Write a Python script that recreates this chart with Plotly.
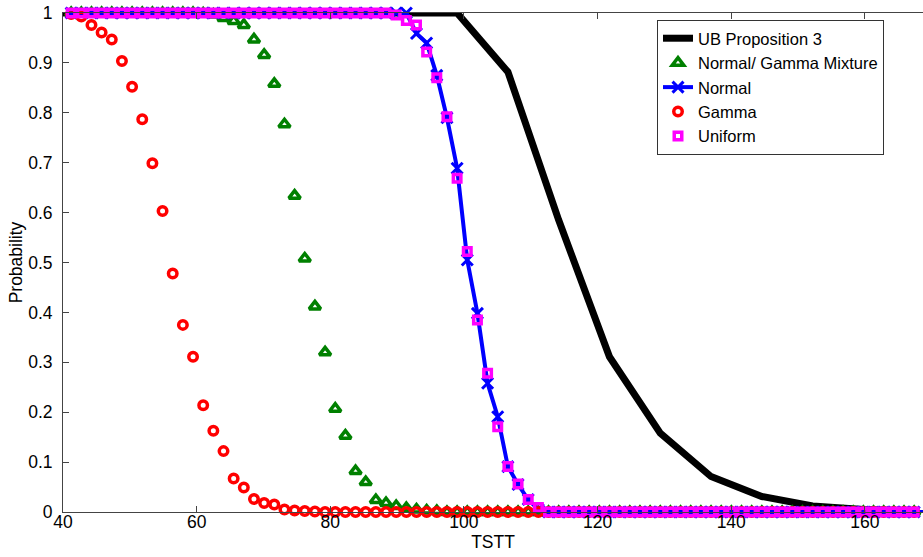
import plotly.graph_objects as go

# TSTT grid shared by the marker series
tstt = [41.22, 42.74, 44.26, 45.78, 47.30, 48.82, 50.34, 51.86, 53.38, 54.90,
        56.42, 57.94, 59.46, 60.98, 62.50, 64.02, 65.54, 67.06, 68.58, 70.10,
        71.62, 73.14, 74.66, 76.18, 77.70, 79.22, 80.74, 82.26, 83.78, 85.30,
        86.82, 88.34, 89.86, 91.38, 92.90, 94.42, 95.94, 97.46, 98.98, 100.50,
        102.02, 103.54, 105.06, 106.58, 108.10, 109.62, 111.14, 112.66, 114.18, 115.70,
        117.22, 118.74, 120.26, 121.78, 123.30, 124.82, 126.34, 127.86, 129.38, 130.90,
        132.42, 133.94, 135.46, 136.98, 138.50, 140.02, 141.54, 143.06, 144.58, 146.10,
        147.62, 149.14, 150.66, 152.18, 153.70, 155.22, 156.74, 158.26, 159.78, 161.30,
        162.82, 164.34, 165.86, 167.38, 168.90]

gamma = [0.998, 0.993, 0.976, 0.961, 0.947, 0.904, 0.852, 0.787, 0.699, 0.603,
         0.478, 0.375, 0.311, 0.214, 0.163, 0.122, 0.067, 0.049, 0.026, 0.018,
         0.015, 0.005, 0.003, 0.002, 0.001] + [0.0] * 60

mixture = [1.0] * 13 + [0.999, 0.997,
           0.99, 0.984, 0.976, 0.947, 0.916, 0.858, 0.777, 0.634, 0.508, 0.412,
           0.32, 0.207, 0.153, 0.082, 0.06, 0.024, 0.018, 0.012, 0.008, 0.005,
           0.003, 0.002] + [0.0] * 48

normal = [1.0] * 34 + [0.959, 0.94, 0.875, 0.79, 0.689, 0.505, 0.398, 0.258,
                       0.191, 0.091, 0.055, 0.025, 0.005] + [0.0] * 38

uniform = [1.0] * 32 + [0.996, 0.985, 0.976, 0.922, 0.870, 0.792, 0.669, 0.522,
                        0.385, 0.278, 0.171, 0.091, 0.056, 0.025, 0.009] + [0.0] * 38

ub_x = [38.18, 45.78, 53.38, 60.98, 68.58, 76.18, 83.78, 91.38, 98.98, 106.58,
        114.18, 121.78, 129.38, 136.98, 144.58, 152.18, 159.78, 167.38]
ub_y = [1.0, 1.0, 1.0, 1.0, 1.0, 1.0, 1.0, 1.0, 1.0, 0.882,
        0.585, 0.311, 0.158, 0.071, 0.031, 0.012, 0.005, 0.002]

x_ticks = [40, 60, 80, 100, 120, 140, 160]
y_ticks = [0, 0.1, 0.2, 0.3, 0.4, 0.5, 0.6, 0.7, 0.8, 0.9, 1]
y_tick_text = ["0", "0.1", "0.2", "0.3", "0.4", "0.5", "0.6", "0.7", "0.8", "0.9", "1"]

FONT = "Liberation Sans, Arial, sans-serif"

fig = go.Figure()
fig.add_trace(go.Scatter(x=ub_x, y=ub_y, mode="lines", name="UB Proposition 3",
                         line=dict(color="black", width=7)))
fig.add_trace(go.Scatter(x=tstt, y=mixture, mode="markers", name="Normal/ Gamma Mixture",
                         cliponaxis=False,
                         marker=dict(symbol="triangle-up-open", size=10, color="#008000",
                                     line=dict(color="#008000", width=3.5))))
fig.add_trace(go.Scatter(x=tstt, y=normal, mode="lines+markers", name="Normal",
                         cliponaxis=False,
                         line=dict(color="#0000FF", width=4),
                         marker=dict(symbol="x-thin-open", size=11, color="#0000FF",
                                     line=dict(color="#0000FF", width=3))))
fig.add_trace(go.Scatter(x=tstt, y=gamma, mode="markers", name="Gamma",
                         cliponaxis=False,
                         marker=dict(symbol="circle-open", size=8.5, color="#FF0000",
                                     line=dict(color="#FF0000", width=3.5))))
fig.add_trace(go.Scatter(x=tstt, y=uniform, mode="markers", name="Uniform",
                         cliponaxis=False,
                         marker=dict(symbol="square-open", size=7.5, color="#FF00FF",
                                     line=dict(color="#FF00FF", width=3.5))))

fig.update_layout(
    width=923, height=557,
    margin=dict(l=63, r=0, t=13, b=45, autoexpand=False),
    plot_bgcolor="white", paper_bgcolor="white",
    font=dict(family=FONT, size=17, color="black"),
    showlegend=True,
    legend=dict(x=0.6907, y=0.986, xanchor="left", yanchor="top",
                bgcolor="white", bordercolor="#333333", borderwidth=1,
                font=dict(family=FONT, size=16.5, color="black"),
                itemwidth=30, tracegroupgap=0,
                entrywidth=205, entrywidthmode="pixels"),
    xaxis=dict(range=[40, 168.7], tickvals=x_ticks, ticks="inside", ticklen=6,
               tickcolor="#444444", showline=True, linecolor="#444444", linewidth=1,
               mirror="ticks", showgrid=False, zeroline=False, automargin=False,
               tickfont=dict(family=FONT, size=17.5), ticklabelstandoff=-6,
               ticklabeloverflow="allow",
               title=dict(text="TSTT", font=dict(family=FONT, size=17.5), standoff=0)),
    yaxis=dict(range=[0, 1], tickvals=y_ticks, ticktext=y_tick_text, ticks="inside",
               ticklen=6, tickcolor="#444444", showline=True, linecolor="#444444",
               linewidth=1, mirror=False, showgrid=False, zeroline=False, automargin=False,
               tickfont=dict(family=FONT, size=17.5), ticklabelstandoff=6,
               ticklabeloverflow="allow",
               title=dict(text="Probability", font=dict(family=FONT, size=17.5), standoff=1)),
)

# remove the browser's default 8px page margin so the figure fills the window exactly
fig.write_html("out.html",
               config={"displayModeBar": False, "staticPlot": True},
               post_script="document.body.style.margin='0px';document.body.style.overflow='hidden';")
